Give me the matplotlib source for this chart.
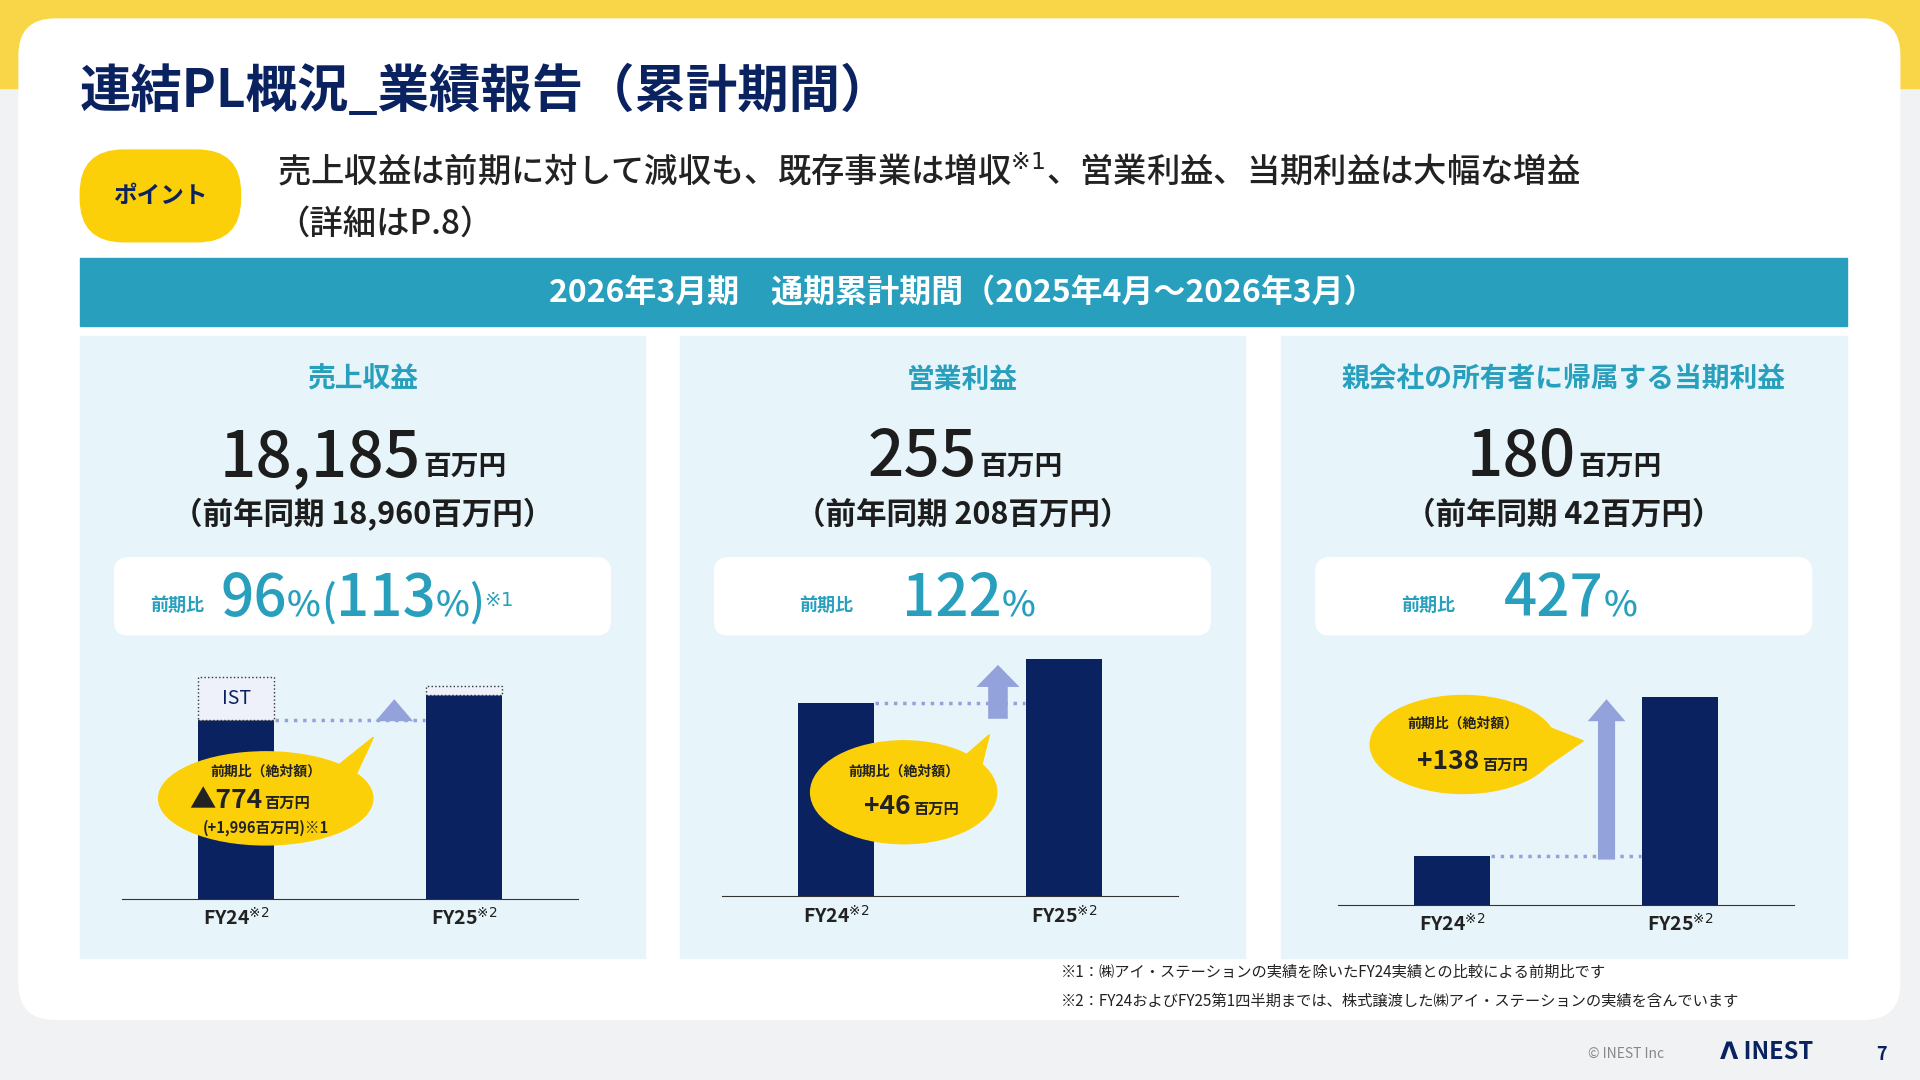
import matplotlib
matplotlib.use("Agg")
import matplotlib.pyplot as plt
from matplotlib.patches import FancyBboxPatch, Rectangle, Polygon, FancyArrow, Ellipse

plt.rcParams["font.family"] = ["Noto Sans CJK JP", "DejaVu Sans"]

# ---- data ----
years = ["FY24", "FY25"]
revenue_core = [15300, 17390]
revenue_ist = [3660, 795]
op_profit = [208, 255]
net_profit = [42, 180]

NAVY = "#0b2260"
TEAL = "#28A0BD"
PANEL = "#E7F5FA"
YEL = "#FCD008"
ARROW = "#94A2DC"

W, H = 1568, 882
fig = plt.figure(figsize=(19.2, 10.8), dpi=100)
ax = fig.add_axes([0, 0, 1, 1])
ax.set_xlim(0, W)
ax.set_ylim(H, 0)
ax.axis("off")
renderer = fig.canvas.get_renderer()


def chain(axis, x, y, pieces, **kw):
    """Draw text pieces left to right, each starting where the last ended."""
    inv = axis.transData.inverted()
    for s, size in pieces:
        t = axis.text(x, y, s, fontsize=size, va="baseline", **kw)
        bb = t.get_window_extent(renderer)
        x = inv.transform((bb.x1, bb.y0))[0]
    return x


# background
ax.add_patch(Rectangle((0, 0), W, H, color="#f1f2f4", zorder=0))
ax.add_patch(Rectangle((0, 0), W, 72, color="#F9D548", zorder=0))
ax.add_patch(FancyBboxPatch((15, 15), 1537, 818, boxstyle="round,pad=0,rounding_size=30",
                            fc="white", ec="none", zorder=1))

ax.text(65, 75, "連結PL概況_業績報告（累計期間）", fontsize=37, fontweight="bold",
        color=NAVY, va="center", zorder=3)
ax.add_patch(FancyBboxPatch((65, 122), 132, 76, boxstyle="round,pad=0,rounding_size=36",
                            fc=YEL, ec="none", zorder=2))
ax.text(131, 160, "ポイント", fontsize=17, fontweight="bold", color=NAVY,
        ha="center", va="center", zorder=3)
ax.text(226, 140, "売上収益は前期に対して減収も、既存事業は増収$^{※1}$、営業利益、当期利益は大幅な増益",
        fontsize=24, fontweight="medium", color="#222", va="center", zorder=3)
ax.text(226, 183, "（詳細はP.8）", fontsize=24, fontweight="medium", color="#222", va="center", zorder=3)

ax.add_patch(Rectangle((65, 211), 1443, 55, color=TEAL, zorder=2))
ax.text(786, 239, "2026年3月期　通期累計期間（2025年4月～2026年3月）", fontsize=23,
        fontweight="bold", color="white", ha="center", va="center", zorder=3)

panels = [
    dict(x0=65, split=344, title="売上収益", big="18,185", prev="（前年同期 18,960百万円）"),
    dict(x0=555, split=798, title="営業利益", big="255", prev="（前年同期 208百万円）"),
    dict(x0=1046, split=1287, title="親会社の所有者に帰属する当期利益", big="180", prev="（前年同期 42百万円）"),
]
for p in panels:
    x0 = p["x0"]
    cx = x0 + 231
    ax.add_patch(Rectangle((x0, 274), 462, 508, color=PANEL, zorder=2))
    ax.text(cx, 310, p["title"], fontsize=20, fontweight="bold", color=TEAL,
            ha="center", va="center", zorder=3)
    ax.text(p["split"], 389, p["big"], fontsize=46, fontweight="medium",
            color="#1d1d1d", ha="right", va="baseline", zorder=3)
    ax.text(p["split"] + 2, 388, "百万円", fontsize=20, fontweight="bold",
            color="#1d1d1d", ha="left", va="baseline", zorder=3)
    ax.text(cx, 420, p["prev"], fontsize=22, fontweight="bold", color="#1d1d1d",
            ha="center", va="center", zorder=3)
    ax.add_patch(FancyBboxPatch((x0 + 28, 455), 406, 64, boxstyle="round,pad=0,rounding_size=12",
                                fc="white", ec="none", zorder=2))

ax.text(123, 499, "前期比", fontsize=13, fontweight="bold", color=TEAL, va="baseline", zorder=3)
chain(ax, 180, 503, [("96", 42), ("%", 26), ("(", 30), ("113", 42), ("%", 26), (")", 30),
                     ("$^{※1}$", 20)], color=TEAL, fontweight="medium", zorder=3)
for x0, val in [(555, "122"), (1046, "427")]:
    ax.text(x0 + 98, 499, "前期比", fontsize=13, fontweight="bold", color=TEAL, va="baseline", zorder=3)
    chain(ax, x0 + 182, 503, [(val, 42), ("%", 26)], color=TEAL, fontweight="medium", zorder=3)


def bar_axes(left, base, ymax):
    # 372 px wide, 200 px tall, baseline at `base`
    a = fig.add_axes([left / W, 1 - base / H, 372 / W, 200 / H])
    a.patch.set_alpha(0)
    a.set_xlim(-0.5, 1.5)
    a.set_ylim(0, ymax)
    for s in ["top", "right", "left"]:
        a.spines[s].set_visible(False)
    a.spines["bottom"].set_color("#333")
    a.set_yticks([])
    a.set_xticks([0, 1])
    a.set_xticklabels([y + "$^{※2}$" for y in years], fontsize=14, fontweight="bold", color="#222")
    a.tick_params(axis="x", length=0, pad=6)
    return a


a1 = bar_axes(100, 734, 20950)
a1.bar([0, 1], revenue_core, width=0.333, color=NAVY)
a1.bar([0, 1], revenue_ist, bottom=revenue_core, width=0.333, color="#EEF0FA",
       edgecolor="#333", linestyle=":", linewidth=1)
a1.text(0, revenue_core[0] + revenue_ist[0] / 2, "IST", fontsize=14, color=NAVY,
        ha="center", va="center")
a1.plot([0.17, 0.83], [revenue_core[0]] * 2, ls=":", color=ARROW, lw=2.5)

a2 = bar_axes(590, 732, 263)
a2.bar([0, 1], op_profit, width=0.333, color=NAVY)
a2.plot([0.17, 0.83], [op_profit[0]] * 2, ls=":", color=ARROW, lw=2.5)

a3 = bar_axes(1093, 739, 212)
a3.bar([0, 1], net_profit, width=0.333, color=NAVY)
a3.plot([0.17, 0.83], [net_profit[0]] * 2, ls=":", color=ARROW, lw=2.5)

# overlay for arrows and callouts
ov = fig.add_axes([0, 0, 1, 1])
ov.set_xlim(0, W)
ov.set_ylim(H, 0)
ov.axis("off")
ov.patch.set_alpha(0)

for x, y0, y1, w in [(322, 589, 571, 14), (815, 587, 543, 16), (1312, 702, 571, 14)]:
    ov.add_patch(FancyArrow(x, y0, 0, y1 - y0, width=w, head_width=w * 2.2,
                            head_length=18, length_includes_head=True, color=ARROW,
                            ec="none"))


def bubble(cx, cy, w, h, tail):
    ov.add_patch(Polygon(tail, closed=True, color=YEL))
    ov.add_patch(Ellipse((cx, cy), w, h, color=YEL))


bubble(217, 652, 175, 76, [(270, 630), (305, 602), (285, 645)])
ov.text(217, 630, "前期比（絶対額）", fontsize=10, fontweight="bold", color="#222", ha="center", va="center")
ov.text(214, 654, "▲774", fontsize=19, fontweight="bold", color="#222", ha="right", va="center")
ov.text(216, 656, "百万円", fontsize=11, fontweight="bold", color="#222", ha="left", va="center")
ov.text(217, 676, "(+1,996百万円)※1", fontsize=10.5, fontweight="bold", color="#222", ha="center", va="center")

bubble(738, 647, 152, 84, [(785, 620), (808, 600), (798, 640)])
ov.text(738, 630, "前期比（絶対額）", fontsize=10, fontweight="bold", color="#222", ha="center", va="center")
ov.text(744, 659, "+46", fontsize=19, fontweight="bold", color="#222", ha="right", va="center")
ov.text(746, 661, "百万円", fontsize=11, fontweight="bold", color="#222", ha="left", va="center")

bubble(1195, 608, 152, 80, [(1255, 590), (1293, 605), (1260, 628)])
ov.text(1195, 591, "前期比（絶対額）", fontsize=10, fontweight="bold", color="#222", ha="center", va="center")
ov.text(1208, 622, "+138", fontsize=19, fontweight="bold", color="#222", ha="right", va="center")
ov.text(1210, 625, "百万円", fontsize=11, fontweight="bold", color="#222", ha="left", va="center")

ax.text(866, 794, "※1：㈱アイ・ステーションの実績を除いたFY24実績との比較による前期比です",
        fontsize=11, color="#222", va="center", zorder=3)
ax.text(866, 818, "※2：FY24およびFY25第1四半期までは、株式譲渡した㈱アイ・ステーションの実績を含んでいます",
        fontsize=11, color="#222", va="center", zorder=3)
ax.text(1297, 861, "© INEST Inc", fontsize=10, color="#888", va="center", zorder=3)
ax.text(1405, 859, "ᐱ INEST", fontsize=17, fontweight="bold", color=NAVY, va="center", zorder=3)
ax.text(1532, 861, "7", fontsize=13, fontweight="bold", color=NAVY, va="center", zorder=3)

fig.savefig("out.png", dpi=100)
